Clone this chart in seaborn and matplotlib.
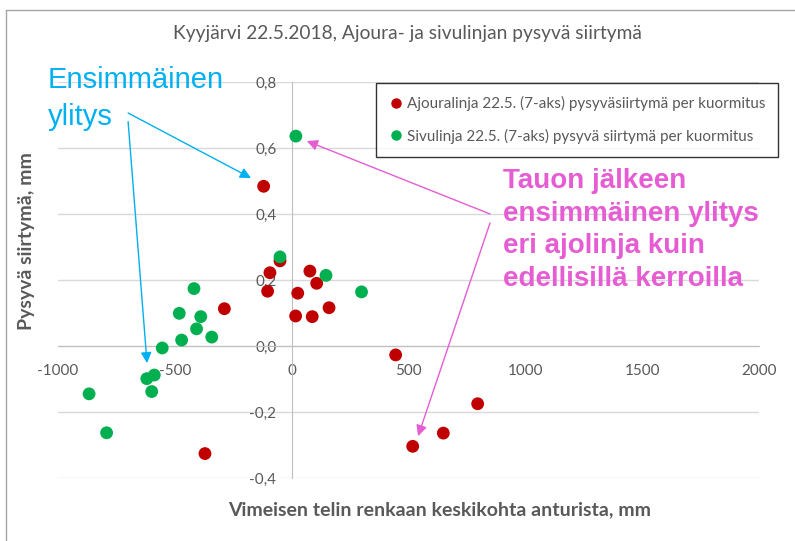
import matplotlib
matplotlib.use("Agg")
import matplotlib.pyplot as plt
from matplotlib.lines import Line2D
from matplotlib.ticker import FuncFormatter, MultipleLocator
import seaborn as sns
import pandas as pd

# Ajouralinja (red)
ajoura_x = [-120, -50, -93, -103, 78, 107, 26, 160, 17, 88, -288, -371, 445, 518, 649, 796]
ajoura_y = [0.484, 0.258, 0.222, 0.166, 0.227, 0.19, 0.16, 0.116, 0.091, 0.089, 0.113,
            -0.326, -0.027, -0.304, -0.264, -0.175]
# Sivulinja (green)
sivu_x = [18, -50, 147, 299, -418, -481, -389, -407, -471, -342, -554, -588, -620, -599, -867, -792]
sivu_y = [0.636, 0.27, 0.214, 0.164, 0.174, 0.099, 0.089, 0.052, 0.018, 0.027, -0.006,
          -0.088, -0.099, -0.138, -0.145, -0.263]

lbl_ajoura = "Ajouralinja 22.5. (7-aks) pysyväsiirtymä per kuormitus"
lbl_sivu = "Sivulinja 22.5. (7-aks) pysyvä siirtymä per kuormitus"
title = "Kyyjärvi 22.5.2018, Ajoura- ja sivulinjan pysyvä siirtymä"
xlabel = "Vimeisen telin renkaan keskikohta anturista, mm"
ylabel = "Pysyvä siirtymä, mm"

df = pd.concat([
    pd.DataFrame({"x": ajoura_x, "y": ajoura_y, "sarja": lbl_ajoura}),
    pd.DataFrame({"x": sivu_x, "y": sivu_y, "sarja": lbl_sivu}),
], ignore_index=True)

sns.set_style("white")
plt.rcParams["font.family"] = ["Lato", "DejaVu Sans"]

red = "#C00000"
green = "#00B050"
grey_txt = "#595959"

fig = plt.figure(figsize=(7.95, 5.41), dpi=100)
ax = fig.add_axes([58 / 795, 1 - 478 / 541, (759 - 58) / 795, (478 - 82) / 541])

sns.scatterplot(data=df, x="x", y="y", hue="sarja", palette={lbl_ajoura: red, lbl_sivu: green},
                s=85, edgecolor="none", ax=ax, legend=False, zorder=3)

ax.set_xlim(-1000, 2000)
ax.set_ylim(-0.4, 0.8)
ax.xaxis.set_major_locator(MultipleLocator(500))
ax.yaxis.set_major_locator(MultipleLocator(0.2))
ax.yaxis.set_major_formatter(FuncFormatter(lambda v, p: f"{v:.1f}".replace(".", ",").replace("-0,0", "0,0")))
ax.xaxis.set_major_formatter(FuncFormatter(lambda v, p: f"{int(round(v))}"))

ax.grid(axis="y", color="#D9D9D9", linewidth=1)
ax.grid(axis="x", visible=False)
for s in ["top", "right"]:
    ax.spines[s].set_visible(False)
ax.spines["bottom"].set_position(("data", 0))
ax.spines["left"].set_position(("data", 0))
ax.spines["bottom"].set_color("#BFBFBF")
ax.spines["left"].set_color("#BFBFBF")
ax.tick_params(axis="x", direction="inout", length=10, color="#BFBFBF", labelsize=11,
               labelcolor=grey_txt, pad=8)
ax.tick_params(axis="y", length=0, labelsize=11, labelcolor=grey_txt, pad=11)
ax.set_xlabel("")
ax.set_ylabel("")

fig.text(407 / 795, 1 - 33 / 541, title, ha="center", va="center", fontsize=13.8, color=grey_txt)
fig.text(440 / 795, 1 - 510 / 541, xlabel, ha="center", va="center", fontsize=14,
         fontweight="bold", color=grey_txt)
fig.text(27 / 795, 1 - 241 / 541, ylabel, ha="center", va="center", rotation=90, fontsize=14,
         fontweight="bold", color=grey_txt)

# legend
handles = [Line2D([], [], marker="o", ls="", color=red, markersize=6.5),
           Line2D([], [], marker="o", ls="", color=green, markersize=6.5)]
leg = fig.legend(handles, [lbl_ajoura, lbl_sivu], loc="upper left",
                 bbox_to_anchor=(376 / 795, 1 - 83 / 541), borderaxespad=0,
                 frameon=True, fancybox=False,
                 fontsize=11, handletextpad=0.25, labelspacing=1.15, borderpad=0.85,
                 handlelength=0.9, labelcolor=grey_txt)
leg.get_frame().set_edgecolor("black")
leg.get_frame().set_linewidth(1)

# annotations
cyan = "#00B0F0"
pink = "#E65CD2"
fig.text(48 / 795, 1 - 66 / 541, "Ensimmäinen\nylitys", ha="left", va="top", fontsize=21,
         color=cyan, family=["Liberation Sans", "DejaVu Sans"], linespacing=1.4)
fig.text(503 / 795, 1 - 168 / 541,
         "Tauon jälkeen\nensimmäinen ylitys\neri ajolinja kuin\nedellisillä kerroilla",
         ha="left", va="top", fontsize=20, fontweight="bold", color=pink,
         family=["Liberation Sans", "DejaVu Sans"], linespacing=1.33)

arrows = [
    ((-700, 0.706), (-174, 0.509), cyan),
    ((-700, 0.68), (-619, -0.052), cyan),
    ((849, 0.40), (65, 0.621), pink),
    ((849, 0.373), (541, -0.273), pink),
]
for start, end, c in arrows:
    ax.annotate("", xy=end, xytext=start, xycoords="data", textcoords="data",
                arrowprops=dict(arrowstyle="-|>", color=c, lw=1, mutation_scale=16,
                                shrinkA=0, shrinkB=0), zorder=4, annotation_clip=False)

# chart border (Excel chart area)
fig.add_artist(Line2D([6 / 795, 6 / 795], [0, 1 - 10 / 541], color="#A6A6A6", lw=1,
                      transform=fig.transFigure))
fig.add_artist(Line2D([6 / 795, 1], [1 - 10 / 541, 1 - 10 / 541], color="#A6A6A6", lw=1,
                      transform=fig.transFigure))

fig.savefig("out.png", dpi=100)
